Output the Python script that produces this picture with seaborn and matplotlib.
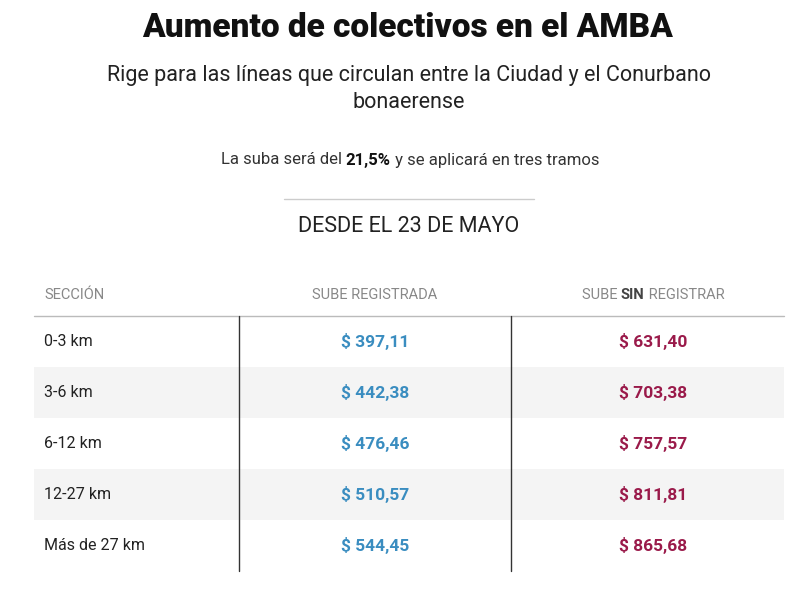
import matplotlib
matplotlib.use("Agg")
import matplotlib.pyplot as plt
import seaborn as sns

# ── data ──────────────────────────────────────────────────────────────
secciones = ["0-3 km", "3-6 km", "6-12 km", "12-27 km", "Más de 27 km"]
registrada = ["$ 397,11", "$ 442,38", "$ 476,46", "$ 510,57", "$ 544,45"]
sin_registrar = ["$ 631,40", "$ 703,38", "$ 757,57", "$ 811,81", "$ 865,68"]

BLUE = "#3a8dc0"
RED = "#9a1a4a"
GRAY = "#888888"

sns.set_theme(style="white", rc={"font.family": "Roboto"})
fig = plt.figure(figsize=(8.1, 6.12), dpi=100)
ax = fig.add_axes([0, 0, 1, 1])
ax.set_xlim(0, 810)
ax.set_ylim(612, 0)
ax.axis("off")
renderer = fig.canvas.get_renderer()


def mixed_text(xc, y, parts, fontsize):
    """Draw (text, weight, color) pieces side by side, centred on xc."""
    texts = [ax.text(0, y, t, ha="left", va="center", fontsize=fontsize,
                     fontweight=w, color=c) for t, w, c in parts]
    widths = []
    for t in texts:
        bb = t.get_window_extent(renderer)
        widths.append(bb.width)
    x = xc - sum(widths) / 2
    for t, w in zip(texts, widths):
        t.set_x(x)
        x += w


ax.text(408, 28, "Aumento de colectivos en el AMBA", ha="center", va="center",
        fontsize=24, fontweight="black", color="#111111")
ax.text(409, 76, "Rige para las líneas que circulan entre la Ciudad y el Conurbano",
        ha="center", va="center", fontsize=15.5, color="#222222")
ax.text(409, 103, "bonaerense", ha="center", va="center", fontsize=15.5, color="#222222")

mixed_text(410, 160, [("La suba será del ", "normal", "#333333"),
                      ("21,5%", "bold", "#111111"),
                      (" y se aplicará en tres tramos", "normal", "#333333")], 12)

ax.plot([284, 534], [199, 199], color="#cccccc", lw=1)
ax.text(409, 227, "DESDE EL 23 DE MAYO", ha="center", va="center", fontsize=15.5, color="#222222")

# header
ax.text(44, 295, "SECCIÓN", ha="left", va="center", fontsize=10.5, color=GRAY)
ax.text(375, 295, "SUBE REGISTRADA", ha="center", va="center", fontsize=10.5, color=GRAY)
mixed_text(653, 295, [("SUBE ", "normal", GRAY), ("SIN", "bold", "#444444"),
                      (" REGISTRAR", "normal", GRAY)], 10.5)

top, h = 316, 51
for i, (s, r, n) in enumerate(zip(secciones, registrada, sin_registrar)):
    y0 = top + i * h
    if i % 2 == 1:
        ax.add_patch(plt.Rectangle((34, y0), 750, h, color="#f4f4f4", lw=0))
    yc = y0 + h / 2
    ax.text(44, yc, s, ha="left", va="center", fontsize=11.5, color="#222222")
    ax.text(375, yc, r, ha="center", va="center", fontsize=12.5, fontweight="bold", color=BLUE)
    ax.text(653, yc, n, ha="center", va="center", fontsize=12.5, fontweight="bold", color=RED)

ax.plot([34, 784], [top, top], color="#bbbbbb", lw=1)
bottom = top + len(secciones) * h
for x in (239, 511):
    ax.plot([x, x], [top, bottom], color="#333333", lw=1)

fig.savefig("out.png", dpi=100)
